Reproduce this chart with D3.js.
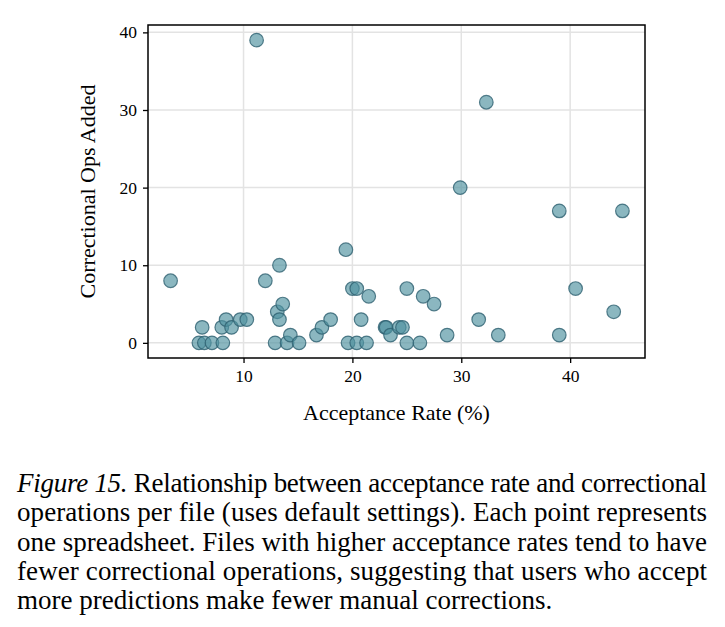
<!DOCTYPE html>
<html>
<head>
<meta charset="utf-8">
<script src="https://cdn.jsdelivr.net/npm/d3@7"></script>
<style>
  body { margin: 0; background: #fff; }
</style>
</head>
<body>
<div id="chart"></div>
<script>
// acceptance rate (%) per spreadsheet
const acceptRate = [3.3, 5.9, 6.2, 6.4, 7.1, 8.0, 8.1, 8.4, 8.9, 9.7, 10.3, 11.2, 12.0, 12.9, 13.1,
  13.3, 13.3, 13.6, 14.0, 14.3, 15.1, 16.7, 17.2, 18.0, 19.4, 19.6, 20.0, 20.4, 20.4, 20.8, 21.3,
  21.5, 23.0, 23.1, 23.5, 24.3, 24.6, 25.0, 25.0, 26.2, 26.5, 27.5, 28.7, 29.9, 31.6, 32.3, 33.4,
  39.0, 39.0, 40.5, 44.0, 44.8];
// correctional ops added per spreadsheet
const opsAdded = [8, 0, 2, 0, 0, 2, 0, 3, 2, 3, 3, 39, 8, 0, 4,
  3, 10, 5, 0, 1, 0, 1, 2, 3, 12, 0, 7, 7, 0, 3, 0,
  6, 2, 2, 1, 2, 2, 7, 0, 0, 6, 5, 1, 20, 3, 31, 1,
  17, 1, 7, 4, 17];
const xTicks = [10, 20, 30, 40];
const yTicks = [0, 10, 20, 30, 40];
const captionLines = [
  "Relationship between acceptance rate and correctional",
  "operations per file (uses default settings). Each point represents",
  "one spreadsheet. Files with higher acceptance rates tend to have",
  "fewer correctional operations, suggesting that users who accept",
  "more predictions make fewer manual corrections."
];

const FONT = "Liberation Serif";
const width = 725, height = 627;
const margin = {left: 148, right: 80, top: 25, bottom: 269};

const svg = d3.select("#chart").append("svg")
  .attr("width", width)
  .attr("height", height);

// matplotlib-style 5% padding around the data
const xPad = (d3.max(acceptRate) - d3.min(acceptRate)) * 0.05;
const yPad = (d3.max(opsAdded) - d3.min(opsAdded)) * 0.05;

const x = d3.scaleLinear()
  .domain([d3.min(acceptRate) - xPad, d3.max(acceptRate) + xPad])
  .range([margin.left, width - margin.right]);
const y = d3.scaleLinear()
  .domain([d3.min(opsAdded) - yPad, d3.max(opsAdded) + yPad])
  .range([height - margin.bottom, margin.top]);

// grid
svg.append("g").selectAll("line").data(xTicks).join("line")
  .attr("x1", d => x(d)).attr("x2", d => x(d))
  .attr("y1", y.range()[0]).attr("y2", y.range()[1])
  .attr("stroke", "#e3e3e3").attr("stroke-width", 1.5);
svg.append("g").selectAll("line").data(yTicks).join("line")
  .attr("y1", d => y(d)).attr("y2", d => y(d))
  .attr("x1", x.range()[0]).attr("x2", x.range()[1])
  .attr("stroke", "#e3e3e3").attr("stroke-width", 1.5);

// points
const pts = acceptRate.map((a, i) => ({a: a, o: opsAdded[i]}));
svg.append("g").selectAll("circle").data(pts).join("circle")
  .attr("cx", d => x(d.a))
  .attr("cy", d => y(d.o))
  .attr("r", 6.8)
  .attr("fill", "#4f919f")
  .attr("fill-opacity", 0.66)
  .attr("stroke", "#2e6070")
  .attr("stroke-opacity", 0.8)
  .attr("stroke-width", 1.2);

// frame
svg.append("rect")
  .attr("x", x.range()[0]).attr("y", y.range()[1])
  .attr("width", x.range()[1] - x.range()[0])
  .attr("height", y.range()[0] - y.range()[1])
  .attr("fill", "none").attr("stroke", "#000").attr("stroke-width", 1.5);

// axes
const gx = svg.append("g")
  .attr("transform", "translate(0," + y.range()[0] + ")")
  .call(d3.axisBottom(x).tickValues(xTicks).tickSize(5).tickPadding(7));
const gy = svg.append("g")
  .attr("transform", "translate(" + x.range()[0] + ",0)")
  .call(d3.axisLeft(y).tickValues(yTicks).tickSize(5).tickPadding(6));
[gx, gy].forEach(g => {
  g.select(".domain").remove();
  g.selectAll(".tick line").attr("stroke", "#000").attr("stroke-width", 1.3);
  g.selectAll(".tick text")
    .style("font-family", FONT)
    .style("font-size", "17.5px")
    .attr("fill", "#000");
});

// axis labels
svg.append("text")
  .attr("x", (x.range()[0] + x.range()[1]) / 2)
  .attr("y", 420)
  .attr("text-anchor", "middle")
  .style("font-family", FONT)
  .style("font-size", "22px")
  .text("Acceptance Rate (%)");
svg.append("text")
  .attr("transform", "translate(95," + (y.range()[0] + y.range()[1]) / 2 + ") rotate(-90)")
  .attr("text-anchor", "middle")
  .style("font-family", FONT)
  .style("font-size", "22px")
  .text("Correctional Ops Added");

// caption
const cap = svg.append("g");
const capLeft = 17, capRight = 707, capTop = 492, lineH = 29.3;
captionLines.forEach((line, i) => {
  const t = cap.append("text")
    .attr("x", capLeft)
    .attr("y", capTop + i * lineH)
    .style("font-family", FONT)
    .style("font-size", "27px");
  if (i === 0) {
    t.append("tspan").style("font-style", "italic").text("Figure 15.");
    t.append("tspan").text(" " + line);
  } else {
    t.text(line);
  }
  if (i < captionLines.length - 1) {
    t.attr("textLength", capRight - capLeft).attr("lengthAdjust", "spacing");
  }
});
</script>
</body>
</html>
